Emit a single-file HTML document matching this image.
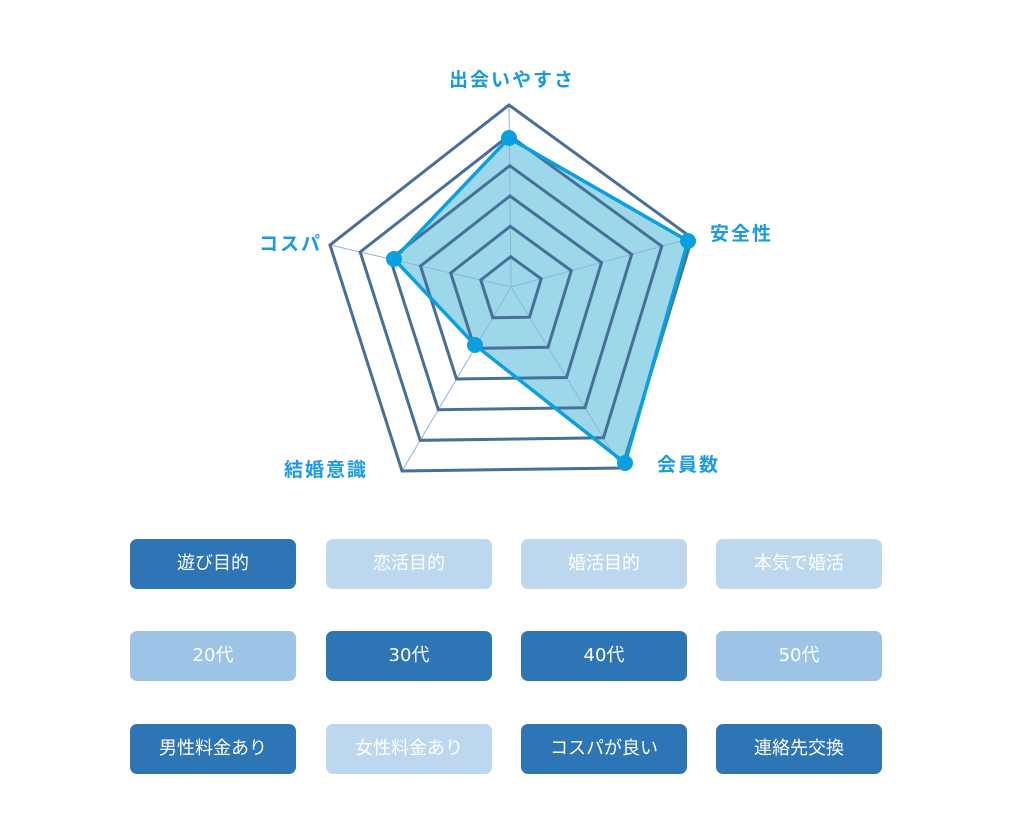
<!DOCTYPE html>
<html><head><meta charset="utf-8"><style>
body{margin:0;background:#fff;width:1024px;height:819px;overflow:hidden;position:relative;font-family:"DejaVu Sans","Noto Sans CJK JP",sans-serif}
.b{position:absolute;width:166px;height:50px;border-radius:7px;color:#fff;font-size:18px;display:flex;align-items:center;justify-content:center;box-sizing:border-box;padding-bottom:4px}
.d{background:#2e75b6}.l{background:#bdd7ee}.m{background:#9dc3e6}
.lab{position:absolute;color:#1a9ae0;font-weight:bold;font-size:19px;letter-spacing:2px;white-space:nowrap;font-family:"Liberation Sans","Noto Sans CJK JP",sans-serif}
</style></head><body>
<svg width="1024" height="819" style="position:absolute;left:0;top:0">
<polygon points="509,138 690,240 625,463 475,346 393,259" fill="#9dd7ea"/>
<g stroke="#8fb3e0" stroke-width="1">
<line x1="511" y1="287" x2="509" y2="105"/><line x1="511" y1="287" x2="692" y2="238"/><line x1="511" y1="287" x2="622" y2="468"/><line x1="511" y1="287" x2="402" y2="471"/><line x1="511" y1="287" x2="330" y2="245"/>
</g>
<g fill="none" stroke="#466f99" stroke-width="3">
<polygon points="510.7,256.7 541.2,278.8 529.5,317.2 492.8,317.7 480.8,280"/>
<polygon points="510.3,226.3 571.3,270.7 548,347.3 474.7,348.3 450.7,273"/>
<polygon points="510,196 601.5,262.5 566.5,377.5 456.5,379 420.5,266"/>
<polygon points="509.7,165.7 631.7,254.3 585,407.7 438.3,409.7 390.3,259"/>
<polygon points="509.3,135.3 661.8,246.2 603.5,437.8 420.2,440.3 360.2,252"/>
<polygon points="509,105 692,238 622,468 402,471 330,245"/>
</g>
<polygon points="509,138 688,241 625,463 475,345 394,259" fill="none" stroke="#0aa0e0" stroke-width="3.5"/>
<g fill="#0aa0e0">
<circle cx="509" cy="138" r="8"/><circle cx="688" cy="241" r="8"/><circle cx="625" cy="463" r="8"/><circle cx="475" cy="345" r="8"/><circle cx="394" cy="259" r="8"/>
</g>
</svg>
<div class="lab" style="left:449px;top:65px">出会いやすさ</div>
<div class="lab" style="left:710px;top:219px">安全性</div>
<div class="lab" style="left:657px;top:450px">会員数</div>
<div class="lab" style="left:284px;top:455px">結婚意識</div>
<div class="lab" style="left:259px;top:229px">コスパ</div>

<div class="b d" style="left:130px;top:539px">遊び目的</div>
<div class="b l" style="left:326px;top:539px">恋活目的</div>
<div class="b l" style="left:521px;top:539px">婚活目的</div>
<div class="b l" style="left:716px;top:539px">本気で婚活</div>
<div class="b m" style="left:130px;top:631px">20代</div>
<div class="b d" style="left:326px;top:631px">30代</div>
<div class="b d" style="left:521px;top:631px">40代</div>
<div class="b m" style="left:716px;top:631px">50代</div>
<div class="b d" style="left:130px;top:724px">男性料金あり</div>
<div class="b l" style="left:326px;top:724px">女性料金あり</div>
<div class="b d" style="left:521px;top:724px">コスパが良い</div>
<div class="b d" style="left:716px;top:724px">連絡先交換</div>
</body></html>
